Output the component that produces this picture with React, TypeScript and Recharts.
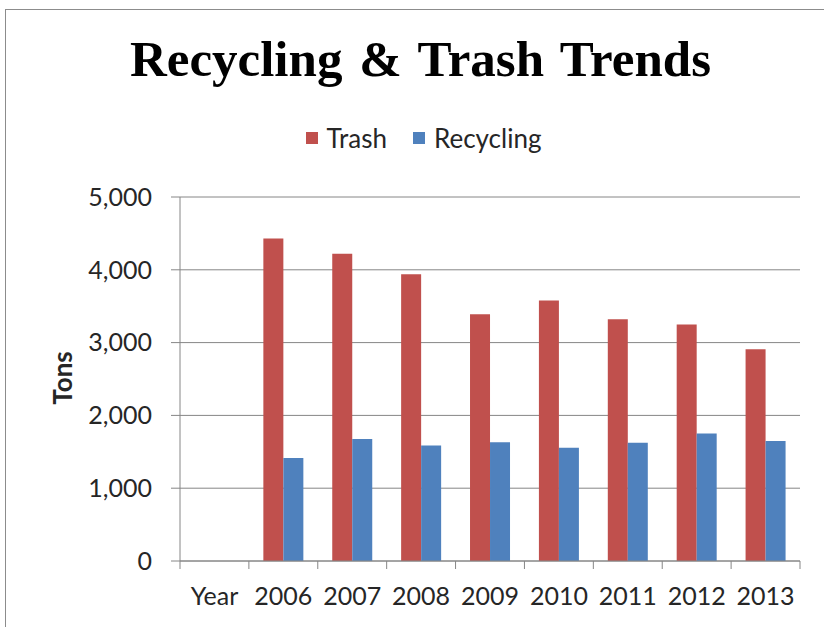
import React from "react";
import { Bar, BarChart, CartesianGrid, Legend, XAxis, YAxis } from "recharts";

const years = ["Year", "2006", "2007", "2008", "2009", "2010", "2011", "2012", "2013"];
const trash = [null, 4430, 4220, 3940, 3390, 3580, 3320, 3250, 2910];
const recycling = [null, 1415, 1675, 1585, 1630, 1555, 1625, 1750, 1650];
const yTicks = [0, 1000, 2000, 3000, 4000, 5000];
const seriesOrder = ["Trash", "Recycling"];

const data = years.map((year, i) => ({ year, trash: trash[i], recycling: recycling[i] }));

const GRID = "#868686";
const TEXT = "#262626";
const FONT = "Lato, 'Open Sans', sans-serif";
// plot box: left 180, right 800
const BAND = 620 / years.length;

function YearTick(props: any) {
  const { x, y, payload, index } = props;
  const half = typeof payload?.offset === "number" && payload.offset > 5 ? payload.offset : BAND / 2;
  const axisY = y - 8;
  return (
    <g>
      <line x1={x - half} x2={x - half} y1={axisY} y2={axisY + 8} stroke={GRID} />
      {index === years.length - 1 && (
        <line x1={x + half} x2={x + half} y1={axisY} y2={axisY + 8} stroke={GRID} />
      )}
      <text x={x} y={axisY + 44} textAnchor="middle" fill={TEXT} fontSize={25} fontFamily={FONT}>
        {payload.value}
      </text>
    </g>
  );
}

function LegendBox({ payload }: any) {
  const items = [...(payload || [])].sort(
    (a: any, b: any) => seriesOrder.indexOf(a.value) - seriesOrder.indexOf(b.value)
  );
  return (
    <div
      style={{
        display: "flex",
        justifyContent: "center",
        alignItems: "center",
        gap: 26,
        fontFamily: FONT,
        fontSize: 26,
        lineHeight: "36px",
        color: TEXT,
      }}
    >
      {items.map((item: any) => (
        <span key={item.value} style={{ display: "flex", alignItems: "center" }}>
          <span style={{ width: 12, height: 12, background: item.color, marginRight: 9 }} />
          {item.value}
        </span>
      ))}
    </div>
  );
}

export default function App() {
  return (
    <div style={{ position: "absolute", left: 0, top: 0, width: 824, height: 627, background: "#fff", overflow: "hidden" }}>
      {/* frame of the original chart area */}
      <div
        style={{
          position: "absolute",
          left: 5,
          top: 9,
          width: 840,
          height: 640,
          borderTop: "1.5px solid #8c8c8c",
          borderLeft: "1.5px solid #8c8c8c",
        }}
      />
      <div
        style={{
          position: "absolute",
          left: 0,
          top: 34,
          width: 841,
          textAlign: "center",
          fontFamily: "'Liberation Serif', 'Times New Roman', serif",
          fontWeight: "bold",
          fontSize: 51,
          lineHeight: "50px",
          wordSpacing: 4,
          color: "#000",
        }}
      >
        Recycling &amp; Trash Trends
      </div>
      <div
        style={{
          position: "absolute",
          left: 62,
          top: 378,
          transform: "translate(-50%, -50%) rotate(-90deg)",
          fontFamily: FONT,
          fontWeight: "bold",
          fontSize: 26,
          lineHeight: "30px",
          color: TEXT,
          whiteSpace: "nowrap",
        }}
      >
        Tons
      </div>
      <BarChart
        width={824}
        height={627}
        data={data}
        margin={{ top: 197, right: 24, bottom: 0, left: 0 }}
        barCategoryGap="21%"
        barGap={0}
      >
        <CartesianGrid stroke={GRID} vertical={false} />
        <XAxis
          dataKey="year"
          height={66}
          interval={0}
          tickSize={8}
          tickMargin={0}
          tickLine={false}
          axisLine={{ stroke: GRID }}
          tick={<YearTick />}
        />
        <YAxis
          width={180}
          domain={[0, 5000]}
          ticks={yTicks}
          tickSize={9}
          tickMargin={19}
          axisLine={{ stroke: GRID }}
          tickLine={{ stroke: GRID }}
          tick={{ fill: TEXT, fontSize: 25, fontFamily: FONT }}
          tickFormatter={(v: number) => v.toLocaleString("en-US")}
        />
        <Legend
          verticalAlign="middle"
          wrapperStyle={{ top: 120, left: 0, width: 847 }}
          content={<LegendBox />}
        />
        <Bar dataKey="trash" name="Trash" fill="#C0504D" isAnimationActive={false} />
        <Bar dataKey="recycling" name="Recycling" fill="#4F81BD" isAnimationActive={false} />
      </BarChart>
    </div>
  );
}
